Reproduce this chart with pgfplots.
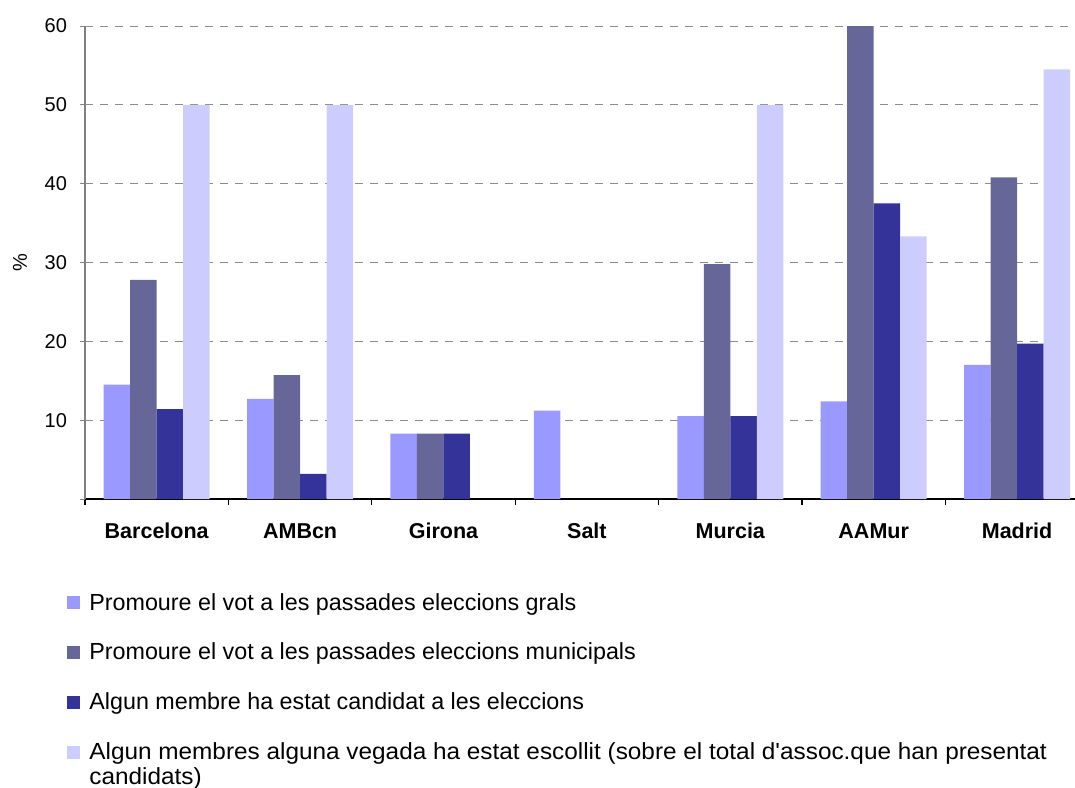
\documentclass[border=0pt]{standalone}
\usepackage{fontspec}
\setmainfont{Liberation Sans}[Ligatures=TeXOff]
\usepackage{graphicx}
\usepackage{pgfplots}
\pgfplotsset{compat=1.18}
\definecolor{cA}{HTML}{9999FF}
\definecolor{cB}{HTML}{666699}
\definecolor{cC}{HTML}{333399}
\definecolor{cD}{HTML}{CCCCFF}
\definecolor{gridc}{HTML}{8C8C8C}
\begin{document}
\fontsize{10}{11.5}\selectfont
\begin{tikzpicture}
\begin{axis}[
  name=ax, at={(0,0)}, anchor=south west,
  scale only axis, width=495pt, height=236.5pt,
  ybar=0pt, bar width=13.25pt,
  xmin=-0.5, xmax=6.404, ymin=0, ymax=60,
  axis x line*=bottom, axis y line*=left,
  x axis line style={-, black, line width=0.6pt},
  y axis line style={-, gray, line width=0.6pt},
  tick align=outside,
  ytick={0,10,20,30,40,50,60},
  yticklabels={{},10,20,30,40,50,60},
  major tick length=2.5pt, minor tick length=3pt,
  y tick style={gray, line width=0.5pt},
  xtick={0,1,2,3,4,5,6},
  xticklabels={Barcelona,AMBcn,Girona,Salt,Murcia,AAMur,Madrid},
  major x tick style={draw=none},
  minor xtick={-0.5,0.5,1.5,2.5,3.5,4.5,5.5},
  minor x tick style={black, line width=0.6pt},
  xticklabel style={font=\fontsize{10.75}{12}\selectfont\bfseries, anchor=base, yshift=-17pt},
  yticklabel style={font=\fontsize{10}{12}\selectfont, xshift=-3pt},
  /pgf/number format/assume math mode=true,
  ymajorgrids, grid style={gridc, dash pattern=on 4pt off 3.5pt, line width=0.5pt},
  ylabel={\%},
  ylabel style={at={(axis description cs:-0.0657,0.5)}, anchor=center, font=\fontsize{10}{12}\selectfont},
  legend style={at={(axis description cs:-0.0182,-0.190)}, anchor=north west,
    draw=none, fill=none, inner sep=0pt, row sep=10.9pt,
    font=\fontsize{11.65}{12.5}\selectfont},
  legend cell align=left,
  legend image code/.code={\fill[#1] (0pt,-3pt) rectangle (6.5pt,3.5pt); \path (9pt,0pt);},
]
\addplot[fill=cA, draw=none] coordinates {(0,14.5) (1,12.7) (2,8.3) (3,11.2) (4,10.5) (5,12.4) (6,17.0)};
\addlegendentry{Promoure el vot a les passades eleccions grals}
\addplot[fill=cB, draw=none] coordinates {(0,27.8) (1,15.7) (2,8.3) (4,29.8) (5,60) (6,40.8)};
\addlegendentry{Promoure el vot a les passades eleccions municipals}
\addplot[fill=cC, draw=none] coordinates {(0,11.4) (1,3.2) (2,8.3) (4,10.5) (5,37.5) (6,19.7)};
\addlegendentry{Algun membre ha estat candidat a les eleccions}
\addplot[fill=cD, draw=none] coordinates {(0,50) (1,50) (4,50) (5,33.3) (6,54.5)};
\addlegendentry{\begin{tabular}[t]{@{}l@{}}\scalebox{1.045}[1]{Algun membres alguna vegada ha estat escollit (sobre el total d'assoc.que han presentat}\\\scalebox{1.045}[1]{candidats)}\end{tabular}}
\end{axis}
\pgfresetboundingbox
\useasboundingbox (-42.5pt,-144pt) rectangle (495pt,249.5pt);
\end{tikzpicture}
\end{document}
